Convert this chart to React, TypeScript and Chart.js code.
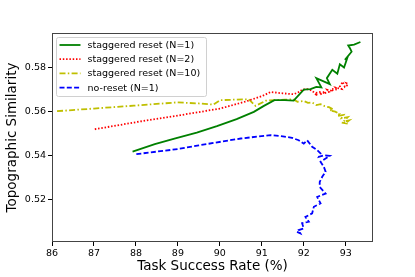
import React, { useEffect, useRef } from "react";
import { Chart, registerables } from "chart.js";

Chart.register(...registerables);

const FONT = "'DejaVu Sans', sans-serif";

const xTicks = [86, 87, 88, 89, 90, 91, 92, 93];
const yTicks = [0.52, 0.54, 0.56, 0.58];
const xTitle = "Task Success Rate (%)";
const yTitle = "Topographic Similarity";

const seriesLabels = [
  "staggered reset (N=1)",
  "staggered reset (N=2)",
  "staggered reset (N=10)",
  "no-reset (N=1)",
];

const n1X = [87.92, 88.45, 88.94, 89.45, 89.93, 90.4, 90.81, 91.05, 91.3, 91.55, 91.76, 92.0, 92.16, 92.3, 92.42, 92.3, 92.62, 92.55, 92.68, 92.8, 92.86, 92.96, 93.05, 92.98, 93.14, 93.1, 93.06, 93.2, 93.35];
const n1Y = [0.5418, 0.5452, 0.5478, 0.5505, 0.5534, 0.5566, 0.5599, 0.5626, 0.5652, 0.5652, 0.565, 0.57, 0.5702, 0.5712, 0.571, 0.5752, 0.5725, 0.5752, 0.579, 0.5772, 0.5815, 0.58, 0.585, 0.5835, 0.5872, 0.5888, 0.59, 0.5904, 0.5916];

const n2X = [87.02, 88.03, 89.06, 90.01, 90.6, 91.0, 91.21, 91.5, 91.76, 91.9, 91.96, 92.08, 92.2, 92.32, 92.28, 92.42, 92.38, 92.5, 92.46, 92.6, 92.56, 92.7, 92.66, 92.8, 92.76, 92.9, 92.86, 92.93, 92.98, 93.05, 93.02, 93.08];
const n2Y = [0.552, 0.5553, 0.5584, 0.5614, 0.5645, 0.567, 0.5689, 0.5683, 0.5679, 0.569, 0.57, 0.5702, 0.5695, 0.5672, 0.5685, 0.569, 0.5676, 0.5692, 0.5682, 0.569, 0.5699, 0.5693, 0.5704, 0.57, 0.5709, 0.5703, 0.5714, 0.5735, 0.5712, 0.5721, 0.5729, 0.5725];

const n10X = [86.12, 87.0, 87.95, 88.98, 89.5, 89.85, 90.01, 90.3, 90.69, 90.85, 91.1, 91.32, 91.55, 91.75, 91.85, 92.0, 92.1, 92.2, 92.3, 92.4, 92.5, 92.6, 92.7, 92.62, 92.75, 92.85, 92.8, 92.95, 92.9, 93.05, 92.95, 93.08, 93.0, 92.9, 93.05];
const n10Y = [0.5602, 0.5614, 0.5627, 0.5642, 0.5637, 0.5632, 0.5652, 0.5654, 0.5656, 0.5626, 0.565, 0.5652, 0.5654, 0.5656, 0.5645, 0.5648, 0.564, 0.5642, 0.563, 0.5634, 0.5625, 0.562, 0.561, 0.5605, 0.56, 0.559, 0.558, 0.5585, 0.557, 0.5575, 0.5555, 0.556, 0.5548, 0.555, 0.5545];

const noResetX = [88.01, 89.0, 89.5, 90.5, 91.21, 91.5, 91.72, 91.88, 92.0, 92.08, 92.2, 92.32, 92.4, 92.36, 92.48, 92.62, 92.4, 92.48, 92.52, 92.44, 92.38, 92.38, 92.52, 92.32, 92.4, 92.24, 92.2, 92.04, 92.12, 91.96, 92.0, 91.88, 91.92, 91.84];
const noResetY = [0.5407, 0.543, 0.5447, 0.5478, 0.5493, 0.5488, 0.5481, 0.547, 0.5455, 0.547, 0.544, 0.5425, 0.541, 0.5395, 0.5402, 0.5399, 0.5372, 0.5349, 0.5327, 0.5304, 0.5281, 0.5258, 0.5228, 0.5213, 0.5183, 0.5168, 0.5138, 0.5122, 0.51, 0.5093, 0.507, 0.5062, 0.5047, 0.5054];

const zip = (xs: number[], ys: number[]) => xs.map((x, i) => ({ x, y: ys[i] }));

const framePlugin = {
  id: "frameAndLegend",
  afterDraw(chart: any) {
    const ctx = chart.ctx as CanvasRenderingContext2D;
    const { left, top, right, bottom } = chart.chartArea;
    ctx.save();
    ctx.strokeStyle = "#444";
    ctx.lineWidth = 1;
    ctx.setLineDash([]);
    ctx.strokeRect(left + 0.5, top + 0.5, right - left - 1, bottom - top - 1);

    // legend
    const bx = left + 4.5;
    const by = top + 4.5;
    const bw = 150;
    const bh = 59;
    ctx.beginPath();
    const r = 2;
    ctx.moveTo(bx + r, by);
    ctx.lineTo(bx + bw - r, by);
    ctx.quadraticCurveTo(bx + bw, by, bx + bw, by + r);
    ctx.lineTo(bx + bw, by + bh - r);
    ctx.quadraticCurveTo(bx + bw, by + bh, bx + bw - r, by + bh);
    ctx.lineTo(bx + r, by + bh);
    ctx.quadraticCurveTo(bx, by + bh, bx, by + bh - r);
    ctx.lineTo(bx, by + r);
    ctx.quadraticCurveTo(bx, by, bx + r, by);
    ctx.closePath();
    ctx.fillStyle = "rgba(255,255,255,0.8)";
    ctx.fill();
    ctx.strokeStyle = "#d0d0d0";
    ctx.stroke();

    chart.data.datasets.forEach((ds: any, i: number) => {
      const y = top + 12 + i * 14.2;
      ctx.beginPath();
      ctx.strokeStyle = ds.borderColor;
      ctx.lineWidth = ds.borderWidth;
      ctx.setLineDash(ds.borderDash || []);
      ctx.moveTo(left + 7.5, y);
      ctx.lineTo(left + 28.5, y);
      ctx.stroke();
      ctx.setLineDash([]);
      ctx.fillStyle = "#000";
      ctx.font = `9.5px ${FONT}`;
      ctx.textBaseline = "middle";
      ctx.textAlign = "left";
      ctx.fillText(ds.label, left + 35.5, y + 0.5);
    });
    ctx.restore();
  },
};

export default function App() {
  const ref = useRef<HTMLCanvasElement>(null);
  useEffect(() => {
    if (!ref.current) return;
    const mk = (label: string, xs: number[], ys: number[], color: string, dash: number[]) => ({
      label,
      data: zip(xs, ys),
      borderColor: color,
      backgroundColor: color,
      borderWidth: 1.8,
      borderDash: dash,
      showLine: true,
      pointRadius: 0,
      tension: 0,
      fill: false,
    });
    const chart = new Chart(ref.current, {
      type: "scatter",
      data: {
        datasets: [
          mk(seriesLabels[0], n1X, n1Y, "#008000", []),
          mk(seriesLabels[1], n2X, n2Y, "#ff0000", [1.5, 1.8]),
          mk(seriesLabels[2], n10X, n10Y, "#bfbf00", [6, 2.3, 1.5, 2.3]),
          mk(seriesLabels[3], noResetX, noResetY, "#0000ff", [5, 2.3]),
        ] as any,
      },
      options: {
        animation: false,
        responsive: false,
        devicePixelRatio: 1,
        layout: { padding: { top: 33, right: 42, left: 0, bottom: 0 } },
        plugins: { legend: { display: false }, tooltip: { enabled: false } },
        scales: {
          x: {
            type: "linear",
            min: 86,
            max: 93.65,
            afterBuildTicks: (s: any) => {
              s.ticks = xTicks.map((v) => ({ value: v }));
            },
            afterFit: (s: any) => {
              s.height = 35;
            },
            ticks: {
              font: { family: FONT, size: 9.5 },
              color: "#000",
              padding: 2,
              maxRotation: 0,
              autoSkip: false,
              callback: (v: any) => String(v),
            },
            grid: { drawOnChartArea: false, tickLength: 4, color: "#000" },
            border: { display: false },
            title: {
              display: true,
              text: xTitle,
              color: "#000",
              font: { family: FONT, size: 13.5 },
              padding: { top: 0, bottom: 2 },
            },
          },
          y: {
            type: "linear",
            min: 0.5008,
            max: 0.5957,
            afterBuildTicks: (s: any) => {
              s.ticks = yTicks.map((v) => ({ value: v }));
            },
            afterFit: (s: any) => {
              s.width = 52;
            },
            ticks: {
              font: { family: FONT, size: 9.5 },
              color: "#000",
              padding: 2,
              autoSkip: false,
              callback: (v: any) => Number(v).toFixed(2),
            },
            grid: { drawOnChartArea: false, tickLength: 4, color: "#000" },
            border: { display: false },
            title: {
              display: true,
              text: yTitle,
              color: "#000",
              font: { family: FONT, size: 13.5 },
              padding: { top: 4, bottom: 0 },
            },
          },
        },
      } as any,
      plugins: [framePlugin],
    });
    return () => chart.destroy();
  }, []);
  return (
    <div style={{ position: "fixed", left: 0, top: 0, width: 415, height: 277, background: "#fff" }}>
      <canvas ref={ref} width={415} height={277} style={{ width: 415, height: 277, display: "block" }} />
    </div>
  );
}
